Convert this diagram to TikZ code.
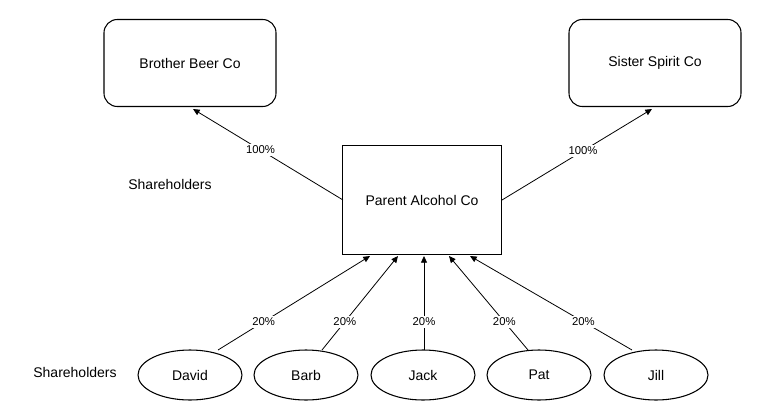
\documentclass[tikz,border=0pt]{standalone}
\usepackage{fontspec}
\setmainfont{Liberation Sans}
\usetikzlibrary{shapes.geometric,arrows.meta}
\begin{document}
\begin{tikzpicture}[x=0.75pt,y=-0.75pt,
  box/.style={draw,thick,minimum width=172*0.75pt,minimum height=87*0.75pt,font=\fontsize{10.5}{12}\selectfont,rounded corners=10pt},
  sq/.style={draw,thick,minimum width=159*0.75pt,minimum height=109*0.75pt,font=\fontsize{10.5}{12}\selectfont},
  ell/.style={draw,thick,ellipse,minimum width=104*0.75pt,minimum height=50*0.75pt,font=\fontsize{10.5}{12}\selectfont},
  pct/.style={fill=white,inner sep=1.5pt,font=\fontsize{8.5}{10}\selectfont},
  arr/.style={-{Triangle[length=5pt,width=4.5pt]},semithick}]
\useasboundingbox (0,0) rectangle (767,407);
\node[box] (bro) at (190,63) {Brother Beer Co};
\node[box] (sis) at (655,63) {Sister Spirit Co};
\node[sq] (par) at (422,200) {Parent Alcohol Co};
\node[font=\fontsize{10.5}{12}\selectfont] (sh1) at (170,184) {Shareholders};
\node[font=\fontsize{10.5}{12}\selectfont] (sh2) at (75,372) {Shareholders};
\node[ell] (d) at (190,375) {David};
\node[ell] (b) at (306,375) {Barb};
\node[ell] (j) at (423,375) {Jack};
\node[ell] (p) at (539,375) {Pat};
\node[ell] (ji) at (656,375) {Jill};
\coordinate (pl) at (343,200);
\coordinate (pr) at (502,200);
\coordinate (bt) at (193,109);
\coordinate (st) at (652,109);
\draw[arr] (pl) -- node[pct,pos=0.55]{100\%} (bt);
\draw[arr] (pr) -- node[pct,pos=0.54]{100\%} (st);
\coordinate (d1) at (218,350); \coordinate (d2) at (370,256);
\coordinate (b1) at (322,350); \coordinate (b2) at (398,256);
\coordinate (j1) at (424,350); \coordinate (j2) at (424,256);
\coordinate (p1) at (528,350); \coordinate (p2) at (449,256);
\coordinate (i1) at (632,350); \coordinate (i2) at (470,256);
\draw[arr] (d1) -- node[pct,pos=0.3]{20\%} (d2);
\draw[arr] (b1) -- node[pct,pos=0.3]{20\%} (b2);
\draw[arr] (j1) -- node[pct,pos=0.3]{20\%} (j2);
\draw[arr] (p1) -- node[pct,pos=0.3]{20\%} (p2);
\draw[arr] (i1) -- node[pct,pos=0.3]{20\%} (i2);
\end{tikzpicture}
\end{document}
